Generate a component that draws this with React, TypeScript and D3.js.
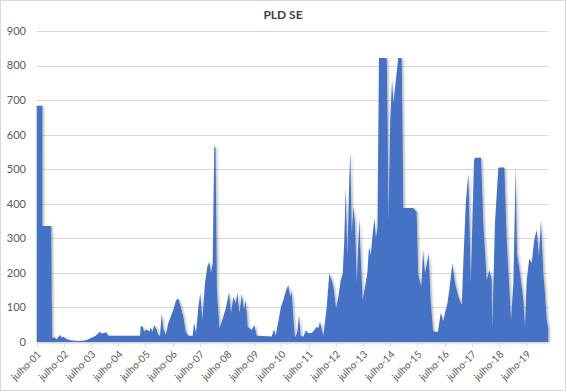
import * as d3 from "d3";
import { useEffect, useRef } from "react";

// weekly PLD SE (R$/MWh) at the turning points
const pld2001to2005: [string, number][] = [
  ["2001-07-01", 684], ["2001-09-15", 684], ["2001-09-16", 336], ["2002-01-12", 336],
  ["2002-01-19", 130], ["2002-01-26", 12], ["2002-03-01", 13], ["2002-03-25", 8],
  ["2002-05-10", 20], ["2002-06-05", 12], ["2002-06-24", 15], ["2002-08-08", 8],
  ["2002-10-15", 4], ["2003-01-15", 3], ["2003-04-10", 4], ["2003-07-10", 12],
  ["2003-09-01", 18], ["2003-10-29", 30], ["2003-11-20", 24], ["2003-12-12", 25],
  ["2004-01-18", 28], ["2004-02-18", 18], ["2005-04-20", 18], ["2005-04-28", 46],
  ["2005-05-26", 44], ["2005-06-12", 30], ["2005-07-17", 37], ["2005-08-22", 30],
  ["2005-09-10", 42], ["2005-10-01", 30], ["2005-10-28", 49], ["2005-11-29", 35],
  ["2005-12-20", 20],
];

const pld2006to2010: [string, number][] = [
  ["2006-01-12", 18], ["2006-02-04", 83], ["2006-02-25", 40], ["2006-03-30", 20],
  ["2006-05-04", 56], ["2006-06-05", 73], ["2006-07-10", 93], ["2006-08-15", 121],
  ["2006-09-15", 126], ["2006-10-17", 102], ["2006-11-21", 73], ["2006-12-23", 30],
  ["2007-01-27", 18], ["2007-03-27", 18], ["2007-04-14", 56], ["2007-05-11", 25],
  ["2007-06-11", 102], ["2007-07-07", 141], ["2007-08-03", 64], ["2007-09-08", 170],
  ["2007-10-09", 218], ["2007-11-05", 232], ["2007-11-28", 199], ["2007-12-20", 228],
  ["2008-01-11", 569], ["2008-01-28", 560], ["2008-02-15", 150], ["2008-03-20", 40],
  ["2008-05-11", 73], ["2008-06-13", 97], ["2008-07-27", 143], ["2008-08-23", 83],
  ["2008-09-23", 131], ["2008-10-25", 112], ["2008-11-16", 143], ["2008-12-13", 83],
  ["2009-01-14", 139], ["2009-02-14", 93], ["2009-03-08", 121], ["2009-04-04", 44],
  ["2009-05-28", 35], ["2009-07-01", 49], ["2009-08-03", 18], ["2010-02-20", 16],
  ["2010-03-23", 37], ["2010-04-15", 18], ["2010-06-25", 102], ["2010-07-26", 121],
  ["2010-08-27", 146], ["2010-10-01", 165], ["2010-10-24", 131], ["2010-11-15", 146],
  ["2010-12-10", 64], ["2010-12-28", 16],
];

const pld2011to2015: [string, number][] = [
  ["2011-01-08", 16], ["2011-01-30", 30], ["2011-02-22", 78], ["2011-03-16", 18],
  ["2011-04-20", 15], ["2011-05-26", 33], ["2011-06-26", 25], ["2011-08-11", 26],
  ["2011-09-11", 33], ["2011-10-17", 44], ["2011-11-08", 40], ["2011-12-01", 59],
  ["2011-12-23", 37], ["2012-01-14", 18], ["2012-02-29", 102], ["2012-04-04", 199],
  ["2012-05-06", 179], ["2012-05-28", 160], ["2012-07-03", 97], ["2012-08-03", 131],
  ["2012-09-04", 179], ["2012-10-01", 199], ["2012-10-22", 295], ["2012-11-10", 449],
  ["2012-12-02", 247], ["2012-12-29", 478], ["2013-01-11", 551], ["2013-01-30", 314],
  ["2013-02-21", 392], ["2013-03-15", 343], ["2013-04-07", 170], ["2013-05-12", 358],
  ["2013-06-04", 218], ["2013-06-26", 121], ["2013-07-27", 160], ["2013-08-27", 199],
  ["2013-09-19", 276], ["2013-10-12", 252], ["2013-11-08", 314], ["2013-11-30", 358],
  ["2013-12-20", 300], ["2014-01-10", 330], ["2014-01-31", 822], ["2014-05-15", 822],
  ["2014-05-28", 600], ["2014-06-05", 350], ["2014-07-01", 640], ["2014-07-25", 760],
  ["2014-08-12", 690], ["2014-09-15", 760], ["2014-10-16", 822], ["2014-12-01", 822],
  ["2014-12-10", 666], ["2014-12-23", 388], ["2015-05-05", 388], ["2015-06-20", 377],
  ["2015-07-12", 194], ["2015-08-22", 160], ["2015-09-14", 266], ["2015-10-10", 200],
  ["2015-10-28", 218], ["2015-11-28", 257], ["2015-12-25", 121],
];

const pld2016to2020: [string, number][] = [
  ["2016-01-26", 35], ["2016-02-08", 30], ["2016-04-01", 30], ["2016-05-09", 85],
  ["2016-06-13", 59], ["2016-07-05", 84], ["2016-08-05", 110], ["2016-09-01", 150],
  ["2016-10-12", 228], ["2016-11-17", 170], ["2017-01-01", 131], ["2017-02-15", 107],
  ["2017-03-08", 228], ["2017-04-10", 401], ["2017-05-15", 488], ["2017-06-16", 170],
  ["2017-07-30", 527], ["2017-08-12", 533], ["2017-11-01", 533], ["2017-12-02", 343],
  ["2018-01-16", 179], ["2018-02-21", 208], ["2018-03-23", 180], ["2018-04-01", 40],
  ["2018-05-07", 343], ["2018-06-21", 503], ["2018-07-01", 505], ["2018-09-10", 505],
  ["2018-10-12", 295], ["2018-11-12", 170], ["2018-12-09", 64], ["2019-01-09", 170],
  ["2019-02-10", 507], ["2019-02-27", 257], ["2019-04-08", 199], ["2019-05-23", 121],
  ["2019-06-15", 44], ["2019-07-07", 179], ["2019-08-11", 242], ["2019-09-12", 228],
  ["2019-10-17", 295], ["2019-11-18", 324], ["2019-12-19", 247], ["2020-01-15", 353],
  ["2020-02-15", 199], ["2020-03-09", 141], ["2020-04-01", 64], ["2020-04-22", 40],
];

const yTicks = [0, 100, 200, 300, 400, 500, 600, 700, 800, 900];
const tickYears = [2001, 2002, 2003, 2004, 2005, 2006, 2007, 2008, 2009, 2010,
  2011, 2012, 2013, 2014, 2015, 2016, 2017, 2018, 2019];
const tickLabels = ["julho-01", "julho-02", "julho-03", "julho-04", "julho-05",
  "julho-06", "julho-07", "julho-08", "julho-09", "julho-10", "julho-11",
  "julho-12", "julho-13", "julho-14", "julho-15", "julho-16", "julho-17",
  "julho-18", "julho-19"];

function PldChart() {
  const ref = useRef<SVGSVGElement>(null);

  useEffect(() => {
    const svg = d3.select(ref.current);
    svg.selectAll("*").remove();

    const font = "Lato, 'Liberation Sans', sans-serif";
    const parse = d3.timeParse("%Y-%m-%d");
    const data = [...pld2001to2005, ...pld2006to2010, ...pld2011to2015, ...pld2016to2020]
      .map(([d, v]) => ({ date: parse(d) as Date, value: v }));

    const x = d3
      .scaleTime()
      .domain([new Date(2001, 6, 1), new Date(2020, 3, 25)])
      .range([36.7, 548.5]);
    const y = d3.scaleLinear().domain([0, 900]).range([342, 31]);

    // outer chart border
    svg
      .append("rect")
      .attr("x", 0.5)
      .attr("y", 0.5)
      .attr("width", 565)
      .attr("height", 390)
      .attr("fill", "white")
      .attr("stroke", "#d9d9d9");

    const defs = svg.append("defs");
    const shadow = defs.append("filter").attr("id", "shadow").attr("x", "-5%").attr("y", "-5%").attr("width", "110%").attr("height", "110%");
    shadow
      .append("feDropShadow")
      .attr("dx", 1.5)
      .attr("dy", 1)
      .attr("stdDeviation", 1)
      .attr("flood-color", "#000")
      .attr("flood-opacity", 0.3);

    // gridlines
    svg
      .append("g")
      .selectAll("line")
      .data(yTicks.filter((t) => t > 0))
      .join("line")
      .attr("x1", 36.7)
      .attr("x2", 548.5)
      .attr("y1", (d) => Math.round(y(d)) + 0.5)
      .attr("y2", (d) => Math.round(y(d)) + 0.5)
      .attr("stroke", "#d9d9d9")
      .attr("stroke-width", 1);

    // y labels
    svg
      .append("g")
      .selectAll("text")
      .data(yTicks)
      .join("text")
      .attr("x", 26)
      .attr("y", (d) => y(d))
      .attr("dy", "0.35em")
      .attr("text-anchor", "end")
      .style("font-family", font)
      .style("font-size", "11px")
      .style("fill", "#595959")
      .text((d) => d);

    const area = d3
      .area<{ date: Date; value: number }>()
      .x((d) => x(d.date))
      .y0(y(0))
      .y1((d) => y(d.value));

    svg
      .append("path")
      .datum(data)
      .attr("d", area)
      .attr("fill", "#4472c4")
      .attr("filter", "url(#shadow)");

    // x axis line and ticks
    svg
      .append("line")
      .attr("x1", 36.7)
      .attr("x2", 548.5)
      .attr("y1", 342.5)
      .attr("y2", 342.5)
      .attr("stroke", "#d9d9d9");

    const tickDates = tickYears.map((yr) => new Date(yr, 6, 1));
    svg
      .append("g")
      .selectAll("line")
      .data(tickDates)
      .join("line")
      .attr("x1", (d) => Math.round(x(d)) + 0.5)
      .attr("x2", (d) => Math.round(x(d)) + 0.5)
      .attr("y1", 342)
      .attr("y2", 347)
      .attr("stroke", "#d9d9d9");

    svg
      .append("g")
      .selectAll("text")
      .data(tickDates)
      .join("text")
      .attr("transform", (d) => `translate(${x(d) + 5},${355}) rotate(-45)`)
      .attr("text-anchor", "end")
      .style("font-family", font)
      .style("font-size", "10px")
      .style("fill", "#595959")
      .text((d, i) => tickLabels[i]);

    svg
      .append("text")
      .attr("x", 283)
      .attr("y", 19)
      .attr("text-anchor", "middle")
      .style("font-family", font)
      .style("font-size", "12px")
      .style("font-weight", "bold")
      .style("fill", "#404040")
      .text("PLD SE");
  }, []);

  return (
    <svg
      ref={ref}
      width={567}
      height={392}
      style={{ position: "absolute", left: 0, top: 0 }}
    />
  );
}

export default function App() {
  return <PldChart />;
}
